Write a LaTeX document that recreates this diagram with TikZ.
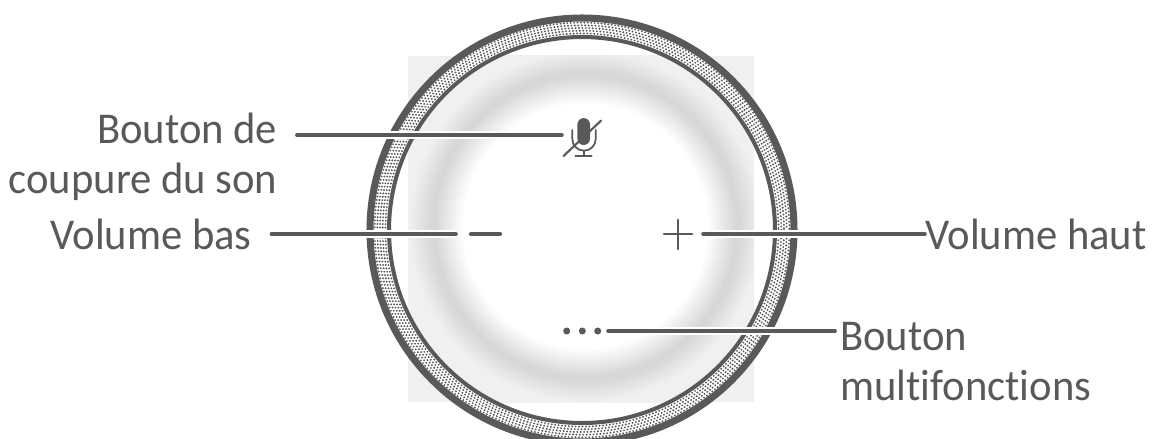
\documentclass[tikz,border=0pt]{standalone}
\usepackage{fontspec}
\setmainfont{Carlito}[FakeStretch=0.97, Ligatures=NoCommon]
\usepackage{tikz}
\usetikzlibrary{positioning}
\definecolor{inkgray}{HTML}{58595B}
\definecolor{glowgray}{HTML}{D6D7D8}
\definecolor{squaregray}{HTML}{F0F0F0}
\pgfdeclareradialshading{glowring}{\pgfpointorigin}{%
    color(0bp)=(white); color(15.25bp)=(white); color(18.75bp)=(glowgray);
    color(19.25bp)=(glowgray); color(22bp)=(squaregray); color(25bp)=(squaregray)}
\tikzset{
    leader/.style={inkgray, line width=2pt, line cap=round},
    halo/.style={white, line width=5.1pt},
    label/.style={inkgray, font=\fontsize{25}{28.5}\selectfont, inner sep=0pt, align=left},
    ringdots/.style={inkgray, line width=1.2pt, line cap=round, dash pattern=on 0pt off 1.95pt},
    mark line/.style={inkgray, line width=1.7pt, line cap=round},
}
\begin{document}
\begin{tikzpicture}[x=0.02cm, y=-0.02cm]
    \useasboundingbox (0,0) rectangle (1164,439);

    % grey square with the soft ring
    \begin{scope}
        \clip (408,56) rectangle (754,402);
        \fill[squaregray] (408,56) rectangle (754,402);
        \shade[shading=glowring] (585,226) circle (200);
    \end{scope}

    % outer ring
    \fill[white, even odd rule] (582,230) circle (215) circle (191);
    \foreach \rr/\ph in {196.6/0, 199.3/0.97, 202/0, 204.7/0.97, 207.4/0}
        \draw[ringdots, dash phase=\ph pt] (582,230) circle (\rr);
    \draw[inkgray, line width=4pt] (582,230) circle (212);
    \draw[inkgray, line width=2.3pt] (582,230) circle (193);

    % free ends of the lines
    \coordinate (micEnd)   at (562,135);
    \coordinate (minusEnd) at (456,234);
    \coordinate (plusEnd)  at (703,234);
    \coordinate (dotsEnd)  at (608,331);

    % labels
    \node[label, anchor=east, align=right] (muteLabel) at (277.5,157) {Bouton de\\coupure du son};
    \node[label, anchor=east] (downLabel) at (252,234) {Volume bas};
    \node[label, anchor=west] (upLabel) at (925,234) {Volume haut};
    \node[label, anchor=west] (multiLabel) at (840,362) {Bouton\\multifonctions};

    % leaders
    \draw[halo, shorten <=11pt] (muteLabel.east |- micEnd) -- (micEnd);
    \draw[leader, shorten <=11pt] (muteLabel.east |- micEnd) -- (micEnd);
    \draw[halo, shorten <=11pt] (downLabel.east) -- (minusEnd);
    \draw[leader, shorten <=11pt] (downLabel.east) -- (minusEnd);
    \draw[halo] (plusEnd) -- (upLabel.west);
    \draw[leader] (plusEnd) -- (upLabel.west);
    \draw[halo, shorten >=2.8pt] (dotsEnd) -- (multiLabel.west |- dotsEnd);
    \draw[leader, shorten >=2.8pt] (dotsEnd) -- (multiLabel.west |- dotsEnd);

    % minus, plus, dots
    \draw[mark line, line width=2.4pt] (471,234) -- (500,234);
    \draw[mark line] (664,234) -- (692,234);
    \draw[mark line] (678,220) -- (678,249);
    \foreach \xd in {566.7,582.3,597.7}
        \fill[inkgray] (\xd,331) circle (3.5);

    % microphone
    \draw[inkgray, line width=1.2pt, line cap=round] (563.5,156) -- (601,120.7);
    \fill[inkgray] (577.4,124.4) arc (180:360:6.3) -- (590,138.7) arc (0:180:6.3) -- cycle;
    \draw[inkgray, line width=1pt, line cap=round] (572.3,130) -- (572.3,139) arc (180:0:11.7) -- (595.7,130);
    \draw[inkgray, line width=1pt] (584,150.7) -- (584,156);
    \draw[inkgray, line width=1.3pt, line cap=round] (575.5,156) -- (591.5,156);
\end{tikzpicture}
\end{document}
